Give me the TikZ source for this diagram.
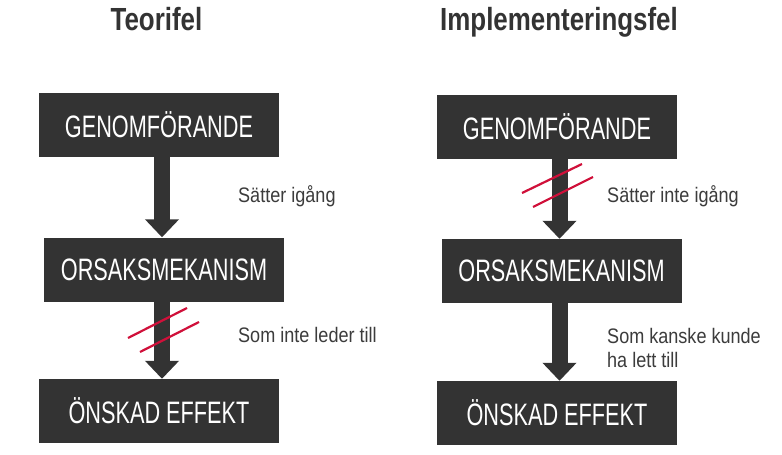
\documentclass[tikz,border=0pt]{standalone}
\usepackage{fontspec}
\setmainfont{Liberation Sans}
\newfontfamily\boxfont{Liberation Sans}[FakeStretch=0.70]
\newfontfamily\labfont{Liberation Sans}[FakeStretch=0.86]
\newfontfamily\titfont{Liberation Sans Bold}[FakeStretch=0.81]
\usetikzlibrary{arrows.meta}
\definecolor{boxgray}{HTML}{333333}
\definecolor{txtgray}{HTML}{3C3C3C}
\definecolor{cutred}{HTML}{D0103A}
\tikzset{
  box/.style={fill=boxgray, text=white, font=\boxfont\fontsize{31}{31}\selectfont,
    minimum width=240pt, minimum height=64pt, inner sep=0pt},
  bigarrow/.style={draw=boxgray, line width=16pt, -{Triangle[width=33pt,length=18pt]}},
  lab/.style={anchor=base west, text=txtgray, font=\labfont\fontsize{21}{24}\selectfont,
    inner sep=0pt, align=left},
  title/.style={anchor=base, text=boxgray, font=\titfont\fontsize{32}{32}\selectfont, inner sep=0pt},
  cut/.style={draw=cutred, line width=2.2pt}
}
\begin{document}
\begin{tikzpicture}[x=1pt,y=-1pt]
\fill[white] (0,0) rectangle (782,455);
\useasboundingbox (0,0) rectangle (782,455);

% titles
\node[title] (t1) at (156.5,30) {Teorifel};
\node[title] (t2) at (559,30) {Implementeringsfel};

% left column
\node[box] (L1) at (159,125) {GENOMFÖRANDE};
\node[box] (L2) at (164,269.5) {ORSAKSMEKANISM};
\node[box] (L3) at (159,411) {ÖNSKAD EFFEKT};
\coordinate (xl) at (162,0);
\draw[bigarrow] (L1.south -| xl) -- (L2.north -| xl);
\draw[bigarrow] (L2.south -| xl) -- (L3.north -| xl);

% right column
\node[box] (R1) at (557,127) {GENOMFÖRANDE};
\node[box] (R2) at (561.5,271) {ORSAKSMEKANISM};
\node[box] (R3) at (557,413) {ÖNSKAD EFFEKT};
\coordinate (xr) at (559.5,0);
\draw[bigarrow] (R1.south -| xr) -- (R2.north -| xr);
\draw[bigarrow] (R2.south -| xr) -- (R3.north -| xr);

% red cut marks
\draw[cut] (128,338) -- (187,308);
\draw[cut] (140,352) -- (199,322);
\draw[cut] (522,193) -- (582,164);
\draw[cut] (533,207) -- (593,177);

% labels
\node[lab] (a1) at (238,202) {Sätter igång};
\node[lab] (a2) at (238,342) {Som inte leder till};
\node[lab] (b1) at (607,202) {Sätter inte igång};
\node[lab] (b2) at (607,367) {Som kanske kunde\\ha lett till};
\end{tikzpicture}
\end{document}
